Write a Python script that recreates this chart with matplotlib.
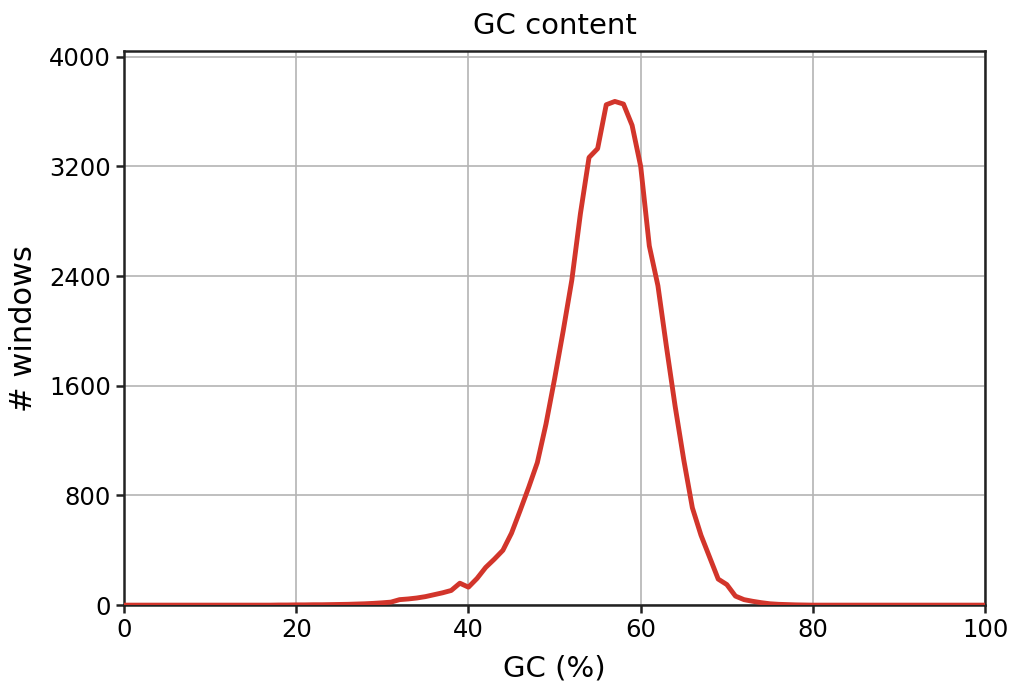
import matplotlib
matplotlib.use("Agg")
import matplotlib.pyplot as plt
import numpy as np

# GC content histogram, 1% bins
gc_pct = list(range(0, 101))
n_windows = [
    0, 0, 0, 0, 0, 0, 0, 0, 0, 0,            # 0-9
    0, 0, 0, 0, 0, 0, 0, 0, 1, 1,            # 10-19
    2, 2, 3, 3, 4, 5, 6, 8, 10, 13,          # 20-29
    17, 22, 40, 45, 52, 62, 76, 90, 107, 160,  # 30-39
    131, 195, 275, 335, 400, 525, 690, 860, 1040, 1320,  # 40-49
    1650, 2000, 2370, 2855, 3265, 3330, 3650, 3674, 3655, 3500,  # 50-59
    3200, 2620, 2330, 1880, 1450, 1060, 710, 510, 350, 190,  # 60-69
    150, 66, 40, 28, 18, 10, 6, 4, 2, 1,     # 70-79
    0, 0, 0, 0, 0, 0, 0, 0, 0, 0,            # 80-89
    0, 0, 0, 0, 0, 0, 0, 0, 0, 0, 0,         # 90-100
]
x_ticks = [0, 20, 40, 60, 80, 100]
y_ticks = [0, 800, 1600, 2400, 3200, 4000]

fig = plt.figure(figsize=(10.12, 6.9), dpi=100)
ax = fig.add_axes([0.1225, 0.123, 0.851, 0.803])

ax.plot(gc_pct, n_windows, color="#d2352b", linewidth=3.5, zorder=3)

ax.set_xlim(0, 100)
ax.set_ylim(0, max(n_windows) * 1.1)
ax.set_xticks(x_ticks)
ax.set_yticks(y_ticks)
ax.grid(True, color="#b4b4b4", linewidth=1.2)

ax.tick_params(labelsize=17.5, width=1.8, length=6, color="#222222")
for sp in ax.spines.values():
    sp.set_linewidth(1.8)
    sp.set_color("#222222")

ax.set_title("GC content", fontsize=21, pad=12)
ax.set_xlabel("GC (%)", fontsize=21, labelpad=9)
ax.set_ylabel("# windows", fontsize=22, labelpad=8)

fig.savefig("out.png", dpi=100)
